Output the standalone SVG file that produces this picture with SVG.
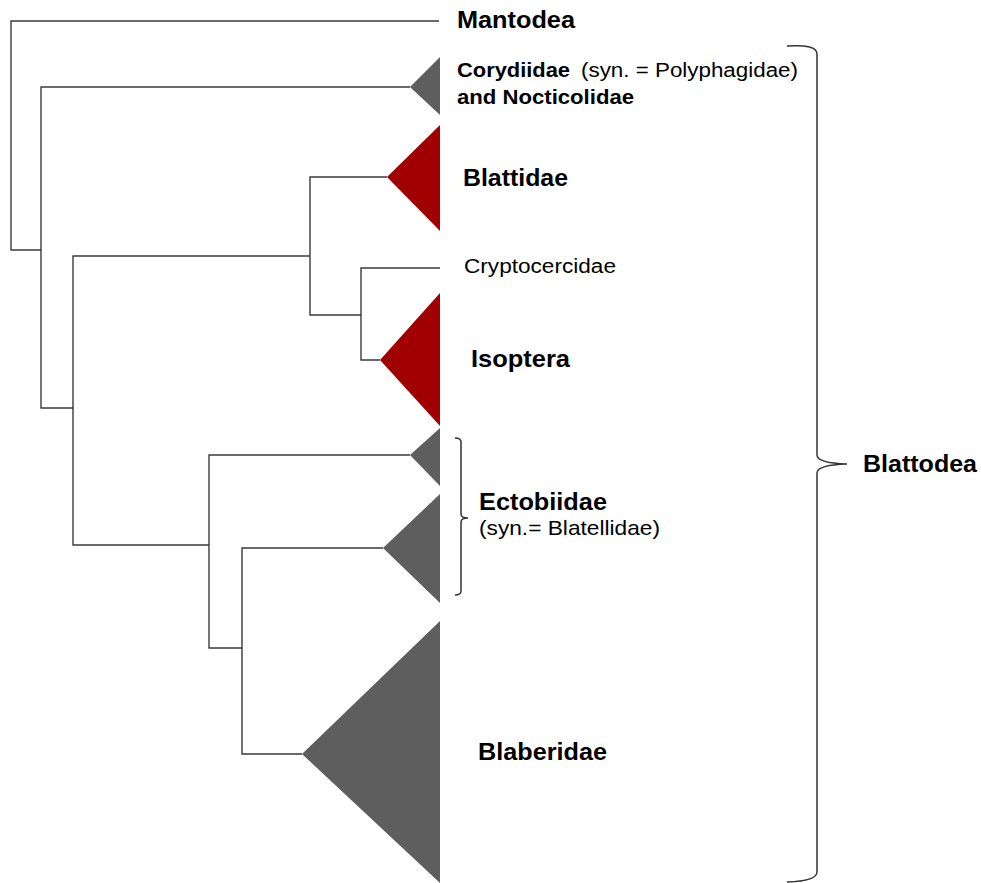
<svg xmlns="http://www.w3.org/2000/svg" width="981" height="883" viewBox="0 0 981 883">
<style>
.ln{fill:none;stroke:#3a3a3a;stroke-width:1.4}
.br{fill:none;stroke:#333;stroke-width:1.5}
.g{fill:#5e5e5e}
.r{fill:#a00000}
text{font-family:"Liberation Sans",Arial,sans-serif;fill:#000}
.b{font-weight:bold}
</style>
<rect width="981" height="883" fill="#fff"/>
<g id="connectors">
<path class="ln" d="M439,21 H11 V250 H41"/>
<path class="ln" d="M410,87 H41 V408 H73"/>
<path class="ln" d="M310,256 H73 V545 H209"/>
<path class="ln" d="M387,177 H310 V315 H361"/>
<path class="ln" d="M440,268 H361 V360 H380"/>
<path class="ln" d="M410,455 H209 V648 H242"/>
<path class="ln" d="M383,548 H242 V754 H302"/>
</g>
<g id="mantodea">
<text class="b" x="457" y="28" font-size="24" textLength="118" lengthAdjust="spacingAndGlyphs">Mantodea</text>
</g>
<g id="corydiidae">
<polygon class="g" points="410,87 440,57 440,115"/>
<text class="b" x="457" y="77" font-size="20" textLength="113" lengthAdjust="spacingAndGlyphs">Corydiidae</text>
<text x="581" y="77" font-size="20" textLength="217" lengthAdjust="spacingAndGlyphs">(syn. = Polyphagidae)</text>
<text class="b" x="457" y="104" font-size="20" textLength="177" lengthAdjust="spacingAndGlyphs">and Nocticolidae</text>
</g>
<g id="blattidae">
<polygon class="r" points="387,177 440,125 440,231"/>
<text class="b" x="463" y="186" font-size="24" textLength="105" lengthAdjust="spacingAndGlyphs">Blattidae</text>
</g>
<g id="cryptocercidae">
<text x="464" y="273" font-size="20" textLength="152" lengthAdjust="spacingAndGlyphs">Cryptocercidae</text>
</g>
<g id="isoptera">
<polygon class="r" points="380,360 440,293 440,426"/>
<text class="b" x="471" y="367" font-size="24" textLength="99" lengthAdjust="spacingAndGlyphs">Isoptera</text>
</g>
<g id="ectobiidae">
<polygon class="g" points="410,455 440,428 440,486"/>
<polygon class="g" points="383,548 440,494 440,603"/>
<path class="br" d="M455,438 Q461,438 461,442 V514 Q461,518 468,518 Q461,518 461,522 V591 Q461,595 455,595"/>
<text class="b" x="479" y="510" font-size="23" textLength="128" lengthAdjust="spacingAndGlyphs">Ectobiidae</text>
<text x="479" y="535" font-size="21" textLength="181" lengthAdjust="spacingAndGlyphs">(syn.= Blatellidae)</text>
</g>
<g id="blaberidae">
<polygon class="g" points="302,754 440,621 440,883"/>
<text class="b" x="478" y="760" font-size="24" textLength="129" lengthAdjust="spacingAndGlyphs">Blaberidae</text>
</g>
<g id="blattodea">
<path class="br" d="M787,46 Q817,44 817,54 V455 Q817,463 847,464 Q817,465 817,473 V872 Q817,881 787,882"/>
<text class="b" x="863" y="472" font-size="23" textLength="114" lengthAdjust="spacingAndGlyphs">Blattodea</text>
</g>
</svg>
